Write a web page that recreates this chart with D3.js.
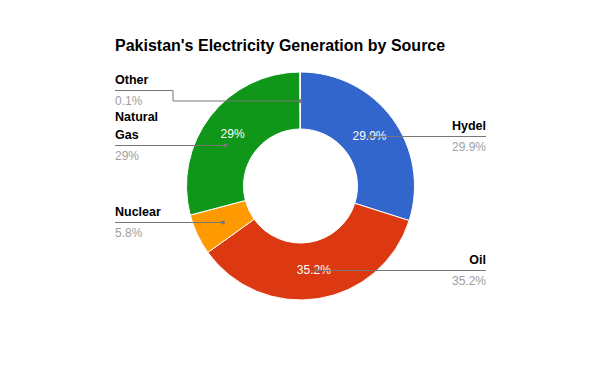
<!DOCTYPE html>
<html>
<head>
<meta charset="utf-8">
<script src="https://cdn.jsdelivr.net/npm/d3@7"></script>
<style>
  body { margin: 0; background: #fff; }
  svg text { font-family: Arial, "Liberation Sans", sans-serif; }
</style>
</head>
<body>
<div id="chart"></div>
<script>
// data
const sources = ["Hydel", "Oil", "Nuclear", "Natural Gas", "Other"];
const shares = [29.9, 35.2, 5.8, 29, 0.1];
const valueLabels = ["29.9%", "35.2%", "5.8%", "29%", "0.1%"];
const colors = ["#3366cc", "#dc3912", "#ff9900", "#109618", "#990099"];

const width = 600, height = 371;
const cx = 300.5, cy = 186, outerR = 114, innerR = 57;

// where each label's leader line sits (layout, not data)
const lineY = { "Hydel": 136, "Oil": 270, "Nuclear": 222, "Natural Gas": 145, "Other": 90 };
const leftX = 115, rightX = 486, leftWrap = 64;

const svg = d3.select("#chart").append("svg")
    .attr("width", width)
    .attr("height", height);

svg.append("text")
    .attr("x", 115).attr("y", 51)
    .attr("font-size", 16).attr("font-weight", "bold")
    .attr("fill", "#000")
    .text("Pakistan's Electricity Generation by Source");

const data = sources.map((s, i) => ({ name: s, value: shares[i], label: valueLabels[i], color: colors[i] }));

const pie = d3.pie().value(d => d.value).sort(null);
const arcs = pie(data);
const arc = d3.arc().innerRadius(innerR).outerRadius(outerR);
const midR = (innerR + outerR) / 2;
const midArc = d3.arc().innerRadius(midR).outerRadius(midR);

const g = svg.append("g").attr("transform", `translate(${cx},${cy})`);

g.selectAll("path").data(arcs).enter().append("path")
    .attr("d", arc)
    .attr("fill", d => d.data.color)
    .attr("stroke", "#fff")
    .attr("stroke-width", 1);

// values inside the big slices
g.selectAll("text.inner").data(arcs.filter(d => d.value > 10)).enter().append("text")
    .attr("class", "inner")
    .attr("transform", d => `translate(${midArc.centroid(d)})`)
    .attr("text-anchor", "middle")
    .attr("dominant-baseline", "central")
    .attr("font-size", 12)
    .attr("fill", "#fff")
    .text(d => d.data.label);

// outside labels with leader lines
const lab = svg.append("g");
arcs.forEach(d => {
    const mid = (d.startAngle + d.endAngle) / 2;
    const left = mid > Math.PI;
    const ly = lineY[d.data.name];
    const dy = ly - cy;
    let px, py, elbow = false;
    if (Math.abs(dy) < midR) {
        const dx = Math.sqrt(midR * midR - dy * dy) * (left ? -1 : 1);
        let ang = Math.atan2(dx, -dy);
        if (ang < 0) ang += 2 * Math.PI;
        if (ang >= d.startAngle && ang <= d.endAngle) { px = cx + dx; py = ly; }
        else elbow = true;
    } else elbow = true;
    if (elbow) {
        const c = midArc.centroid(d);
        px = cx + c[0]; py = cy + c[1];
    }

    const tx = left ? leftX : rightX;
    const anchor = left ? "start" : "end";

    // wrap the name into lines
    const words = d.data.name.split(" ");
    const lines = [];
    const probe = lab.append("text").attr("font-size", 12.5).attr("font-weight", "bold");
    let cur = "";
    words.forEach(w => {
        const t = cur ? cur + " " + w : w;
        probe.text(t);
        if (cur && probe.node().getComputedTextLength() > leftWrap) { lines.push(cur); cur = w; }
        else cur = t;
    });
    lines.push(cur);
    probe.remove();

    lines.forEach((l, i) => {
        lab.append("text")
            .attr("x", tx).attr("y", ly - 6 - (lines.length - 1 - i) * 18)
            .attr("text-anchor", anchor)
            .attr("font-size", 12.5).attr("font-weight", "bold")
            .attr("fill", "#000")
            .text(l);
    });
    lab.append("text")
        .attr("x", tx).attr("y", ly + 15)
        .attr("text-anchor", anchor)
        .attr("font-size", 12)
        .attr("fill", "#9e9e9e")
        .text(d.data.label);

    let pts;
    if (elbow) {
        const ex = left ? leftX + 58 : rightX - 58;
        pts = [[tx, ly], [ex, ly], [ex, py], [px, py]];
    } else {
        pts = [[tx, ly], [px, py]];
    }
    lab.append("path")
        .attr("d", d3.line()(pts.map(p => [p[0], p[1] + 0.5])))
        .attr("fill", "none")
        .attr("stroke", "#777")
        .attr("stroke-width", 1);
    lab.append("circle")
        .attr("cx", px).attr("cy", py + 0.5).attr("r", 2)
        .attr("fill", "#777");
});
</script>
</body>
</html>
